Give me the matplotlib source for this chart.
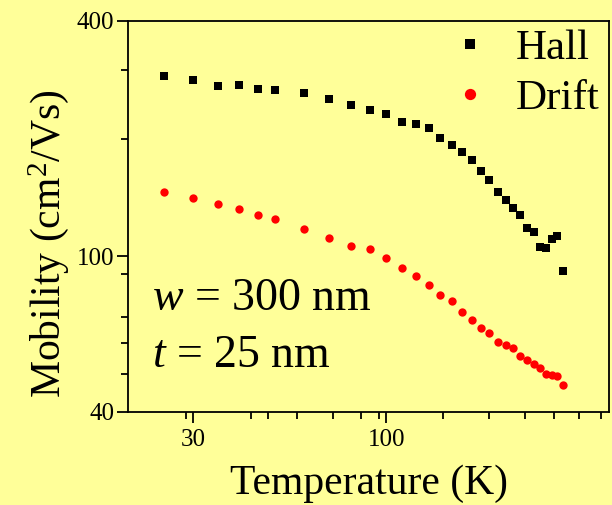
import matplotlib
matplotlib.use("Agg")
import matplotlib.pyplot as plt
import numpy as np

plt.rcParams["font.family"] = ["Liberation Serif", "DejaVu Serif"]
plt.rcParams["mathtext.fontset"] = "custom"
plt.rcParams["mathtext.rm"] = "Liberation Serif"
plt.rcParams["mathtext.it"] = "Liberation Serif:italic"

bg = "#ffff99"

temps = [25, 30, 35, 40, 45, 50, 60, 70, 80, 90, 100, 110, 120, 130, 140, 150,
         160, 170, 180, 190, 200, 210, 220, 230, 240, 250, 260, 270, 280, 290, 300]
hall = [289, 282, 273, 274, 268, 266, 262, 253, 244, 237, 231, 221, 218, 213, 201, 193,
        185, 176.5, 165.5, 156.5, 146, 139.5, 133.3, 127.5, 118.3, 115.6, 105.4, 105.2,
        110.7, 112.9, 91.9]
drift = [146, 141, 136, 132, 127.5, 124.5, 117.8, 111.7, 106.2, 104.5, 99, 93.3, 89.2,
         84.5, 79.6, 76.9, 72.2, 68.7, 65.7, 63.7, 60.5, 59.5, 58.3, 55.7, 54.3, 53.1,
         51.7, 50.0, 49.6, 49.5, 47.0]

x_major = [30, 100]
x_minor = [28.7, 43, 47.7, 57.2, 71.5, 85.6, 95.5, 142, 190, 237, 284, 332, 380]
y_major = [40, 100, 400]
y_minor = [50, 60, 70, 90, 200, 300]

fig = plt.figure(figsize=(6.12, 5.05), dpi=100, facecolor=bg)
ax = fig.add_axes([0.2092, 0.1842, 0.7859, 0.7743], facecolor=bg)

ax.plot(temps, hall, "s", color="black", ms=5.3, mew=0, label="Hall")
ax.plot(temps, drift, "o", color="red", ms=6, mew=0, label="Drift")

ax.set_xscale("log")
ax.set_yscale("log")
ax.set_xlim(20, 400)
ax.set_ylim(40, 400)

ax.set_xticks(x_major)
ax.set_xticks(x_minor, minor=True)
ax.set_xticklabels([str(v) for v in x_major], fontsize=18)
ax.set_xticklabels([], minor=True)
ax.set_yticks(y_major)
ax.set_yticks(y_minor, minor=True)
ax.set_yticklabels([str(v) for v in y_major], fontsize=18)
ax.set_yticklabels([], minor=True)

for s in ax.spines.values():
    s.set_linewidth(1.3)
ax.tick_params(which="major", length=8, width=1.3, pad=2)
ax.tick_params(which="minor", length=5, width=1.3)
ax.tick_params(axis="x", which="major", pad=4)

ax.set_xlabel("Temperature (K)", fontsize=30, labelpad=10)
ax.set_ylabel("Mobility (cm$^2$/Vs)", fontsize=30)
ax.yaxis.set_label_coords(-0.119, 0.43)

ax.text(0.05, 0.262, "$w$ = 300 nm", transform=ax.transAxes, fontsize=33)
ax.text(0.05, 0.115, "$t$ = 25 nm", transform=ax.transAxes, fontsize=33)

ax.legend(loc="upper right", bbox_to_anchor=(1.033, 1.045), frameon=False, fontsize=31,
          handlelength=1.0, handletextpad=0.55, labelspacing=0.25, markerscale=1.35,
          borderaxespad=0.2)

fig.savefig("out.png", dpi=100, facecolor=bg)
